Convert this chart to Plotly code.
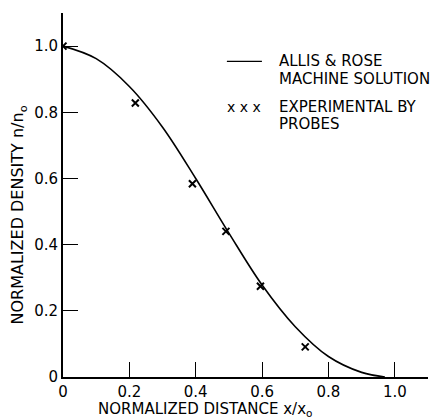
import plotly.graph_objects as go

# Allis & Rose machine solution (curve)
curve_x = [0.0, 0.1, 0.2, 0.3, 0.4, 0.5, 0.6, 0.7, 0.8, 0.9, 0.97]
curve_y = [1.0, 0.962, 0.878, 0.755, 0.600, 0.435, 0.278, 0.152, 0.062, 0.014, 0.0]

# Experimental by probes
exp_x = [0.0, 0.218, 0.39, 0.491, 0.595, 0.73]
exp_y = [1.0, 0.828, 0.584, 0.44, 0.274, 0.091]

tick_vals = [0, 0.2, 0.4, 0.6, 0.8, 1.0]
tick_text = ["0", "0.2", "0.4", "0.6", "0.8", "1.0"]

FONT = "DejaVu Sans, Verdana, sans-serif"

fig = go.Figure()
fig.add_trace(go.Scatter(x=curve_x, y=curve_y, mode="lines",
                         line=dict(color="black", width=1.6, shape="spline", smoothing=1.0),
                         showlegend=False, hoverinfo="skip"))
fig.add_trace(go.Scatter(x=exp_x, y=exp_y, mode="markers",
                         marker=dict(symbol="x-thin", size=7, line=dict(color="black", width=2)),
                         showlegend=False, hoverinfo="skip"))

axis_common = dict(
    showgrid=False, zeroline=False, showline=True, linecolor="black", linewidth=2,
    ticks="inside", ticklen=15, tickwidth=1.2, tickcolor="black",
    tickmode="array", tickvals=tick_vals, ticktext=tick_text,
    tickfont=dict(family=FONT, size=15, color="black"),
)

# page body has an 8px margin: figure is sized so the plot area lands where the reference has it
fig.update_layout(
    width=430, height=411,
    margin=dict(l=55, r=10, t=5, b=42),
    paper_bgcolor="white", plot_bgcolor="white",
    xaxis=dict(range=[0, 1.1], **axis_common),
    yaxis=dict(range=[0, 1.1], **axis_common),
    font=dict(family=FONT, color="black"),
)

def ann(text, x, y, size=15, xanchor="left", **kw):
    fig.add_annotation(text=text, x=x, y=y, xref="paper", yref="paper",
                       xanchor=xanchor, yanchor="middle", showarrow=False,
                       font=dict(family=FONT, size=size, color="black"), **kw)

# legend
fig.add_shape(type="line", xref="paper", yref="paper", x0=0.449, x1=0.545, y0=0.867, y1=0.867,
              line=dict(color="black", width=1.3))
ann("ALLIS &amp; ROSE", 0.586, 0.867, size=15)
ann("MACHINE SOLUTION", 0.586, 0.820, size=15)
ann("x x x", 0.496, 0.741, size=14, xanchor="center")
ann("EXPERIMENTAL BY", 0.586, 0.741, size=15)
ann("PROBES", 0.586, 0.694, size=15)

# axis titles
ann("NORMALIZED DISTANCE x/x<sub>o</sub>", 0.39, -0.09, size=15, xanchor="center")
ann("NORMALIZED DENSITY n/n<sub>o</sub>", -0.122, 0.445, size=16, xanchor="center", textangle=-90)

fig.write_html("out.html")
